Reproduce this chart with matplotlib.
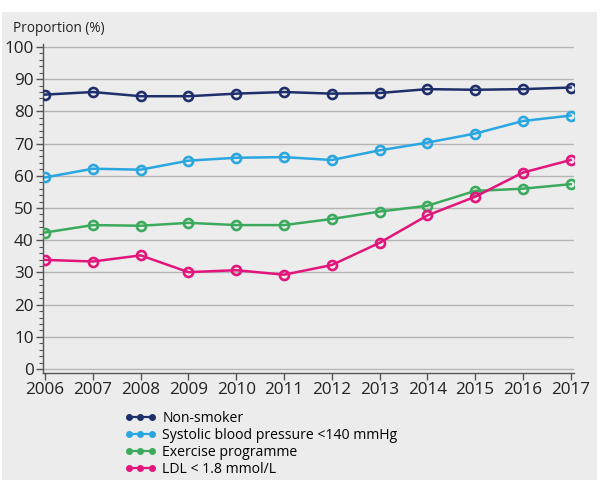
import matplotlib.pyplot as plt
from matplotlib.lines import Line2D
from matplotlib.patches import Rectangle
from matplotlib.ticker import MultipleLocator

plt.rcParams['font.family'] = ['Open Sans', 'DejaVu Sans']

# data
years = [2006, 2007, 2008, 2009, 2010, 2011, 2012, 2013, 2014, 2015, 2016, 2017]
non_smoker = [85.2, 86.0, 84.7, 84.7, 85.5, 86.0, 85.5, 85.7, 86.9, 86.7, 86.9, 87.4]
systolic = [59.5, 62.2, 61.9, 64.7, 65.6, 65.8, 64.9, 67.9, 70.3, 73.1, 77.0, 78.7]
exercise = [42.4, 44.7, 44.5, 45.4, 44.7, 44.7, 46.6, 48.9, 50.7, 55.3, 56.0, 57.4]
ldl = [33.9, 33.4, 35.3, 30.1, 30.7, 29.3, 32.3, 39.2, 47.7, 53.5, 61.0, 64.9]

labels = ['Non-smoker', 'Systolic blood pressure <140 mmHg',
          'Exercise programme', 'LDL < 1.8 mmol/L']
colors = ['#1f2f6b', '#2aa6e0', '#3caa5c', '#e2157c']
series = [non_smoker, systolic, exercise, ldl]

W, H = 609, 488
fig = plt.figure(figsize=(W / 100, H / 100), dpi=100, facecolor='white')
# grey panel behind the chart
fig.patches.append(Rectangle((2 / W, 1 - 480 / H), 595 / W, 468 / H,
                             transform=fig.transFigure, facecolor='#ececec',
                             edgecolor='none', zorder=-10))

ax = fig.add_axes([42.7 / W, 1 - 373.3 / H, (574 - 42.7) / W, (373.3 - 43.7) / H])
ax.set_facecolor('none')

for vals, c in zip(series, colors):
    ax.plot(years, vals, color=c, lw=1.8, marker='o', ms=6.5,
            mfc='none', mec=c, mew=1.9, zorder=3)

ax.set_xlim(2005.95, 2017.07)
ax.set_ylim(-1.3, 101)
ax.set_xticks(years)
ax.set_yticks(range(0, 101, 10))
ax.yaxis.set_minor_locator(MultipleLocator(2))
ax.grid(axis='y', color='#b4b4b4', lw=1)
ax.set_axisbelow(True)

for s in ['top', 'right']:
    ax.spines[s].set_visible(False)
for s in ['left', 'bottom']:
    ax.spines[s].set_color('#555555')
    ax.spines[s].set_linewidth(1)

ax.tick_params(axis='both', which='major', labelsize=12.3, colors='#555555',
               labelcolor='#222222', length=5, width=1)
ax.tick_params(axis='y', which='minor', length=3, width=0.8, colors='#555555')
ax.tick_params(axis='y', pad=1.5)
ax.tick_params(axis='x', pad=1.5)

fig.text(13 / W, 1 - 28 / H, 'Proportion (%)', fontsize=9.8, color='#222222',
         va='center', ha='left')

handles = [Line2D([0], [0], color=c, lw=1.6, marker='o', ms=4, mfc=c, mec=c)
           for c in colors]
fig.legend(handles, labels, loc='upper left',
           bbox_to_anchor=(125 / W, 1 - 411 / H), frameon=False,
           fontsize=10.1, numpoints=3, handlelength=2.2, handletextpad=0.45,
           labelspacing=0.14, borderpad=0, borderaxespad=0)

fig.savefig('out.png', dpi=100, facecolor='white')
